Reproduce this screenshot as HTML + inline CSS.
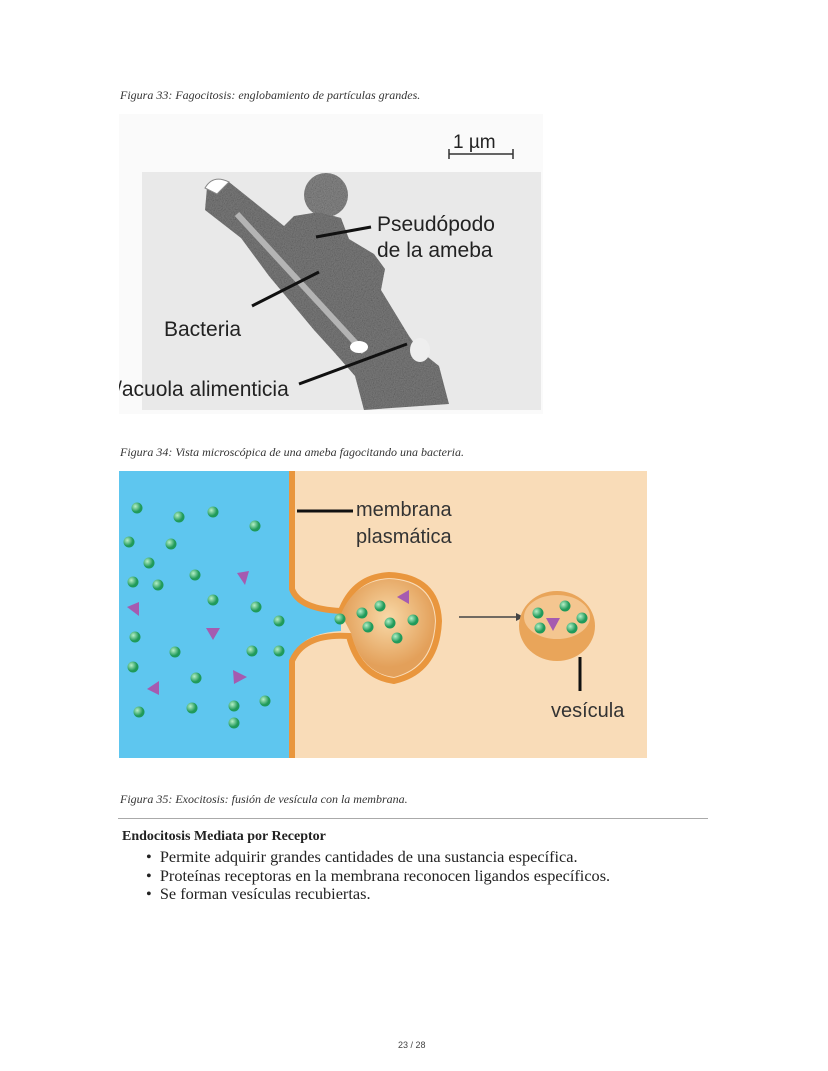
<!DOCTYPE html>
<html><head><meta charset="utf-8"><style>
body{margin:0;background:#fff;width:828px;height:1071px;position:relative;overflow:hidden;font-family:"Liberation Serif","DejaVu Serif",serif;color:#222}
.cap{position:absolute;left:120px;font-style:italic;font-size:12px;color:#333}
.t{position:absolute;white-space:nowrap}
</style></head><body>
<div class="cap" style="top:88px">Figura 33: Fagocitosis: englobamiento de partículas grandes.</div>
<svg style="position:absolute;left:119px;top:114px" width="424" height="300">
<defs><filter id="n"><feTurbulence type="fractalNoise" baseFrequency="0.9" numOctaves="2" result="t"/><feColorMatrix type="saturate" values="0"/><feComposite in2="SourceGraphic" operator="in"/><feBlend in="SourceGraphic" mode="multiply"/></filter></defs>
<rect x="0" y="0" width="424" height="300" fill="#fafafa"/>
<rect x="23" y="58" width="399" height="238" fill="#e9e9e9"/>
<circle cx="207" cy="81" r="22" fill="#8a8a8a" filter="url(#n)"/>
<path d="M88 73 L110 68 L165 112 L175 102 L200 98 L222 104 L230 125 L255 140 L266 155 L262 176 L290 222 L300 236 L320 252 L330 290 L245 296 L236 262 L215 238 L195 216 L175 192 L150 162 L122 124 L86 96 Z" fill="#7e7e7e" filter="url(#n)"/>
<path d="M86 74 Q94 60 110 68 L98 80 Z" fill="#fff" stroke="#888"/>
<path d="M118 100 L245 238" stroke="#b4b4b4" stroke-width="6"/>
<ellipse cx="240" cy="233" rx="9" ry="6" fill="#fff"/>
<ellipse cx="301" cy="236" rx="10" ry="12" fill="#eee"/>
<text x="334" y="34" font-family="Liberation Sans" font-size="19" fill="#222">1 µm</text>
<path d="M330 40 H394 M330 35 V45 M394 35 V45" stroke="#333" stroke-width="1.5"/>
<path d="M197 123 L252 113" stroke="#111" stroke-width="3"/>
<text x="258" y="117" font-family="Liberation Sans" font-size="21" fill="#222">Pseudópodo</text>
<text x="258" y="143" font-family="Liberation Sans" font-size="21" fill="#222">de la ameba</text>
<path d="M133 192 L200 158" stroke="#111" stroke-width="3"/>
<text x="45" y="222" font-family="Liberation Sans" font-size="21" fill="#222">Bacteria</text>
<path d="M180 270 L288 230" stroke="#111" stroke-width="3"/>
<text x="-3" y="282" font-family="Liberation Sans" font-size="21" fill="#222">/acuola alimenticia</text>
</svg>
<div class="cap" style="top:445px">Figura 34: Vista microscópica de una ameba fagocitando una bacteria.</div>
<svg style="position:absolute;left:119px;top:471px" width="528" height="287">
<defs><radialGradient id="g" cx="35%" cy="35%"><stop offset="0" stop-color="#b6f0c8"/><stop offset="1" stop-color="#1f9a5a"/></radialGradient>
<radialGradient id="v" cx="50%" cy="40%"><stop offset="0" stop-color="#f8d9a8"/><stop offset="1" stop-color="#e3a05a"/></radialGradient></defs>
<rect width="528" height="287" fill="#f9dcb8"/>
<path d="M0 0 H172 V118 Q180 138 222 140 L222 160 Q180 162 172 190 V287 H0 Z" fill="#5ec6ef"/>
<path d="M173 0 V118 Q180 138 222 140 Q235 106 270 104 Q318 106 320 150 Q318 200 275 210 Q240 205 230 165 Q185 162 173 190 V287" fill="none" stroke="#e9963d" stroke-width="6"/>
<path d="M222 143 Q236 110 270 108 Q314 110 316 150 Q314 196 275 206 Q242 202 232 162 Z" fill="url(#v)"/>
<path d="M178 40 H234" stroke="#111" stroke-width="3"/>
<text x="237" y="45" font-family="Liberation Sans" font-size="20" fill="#333">membrana</text>
<text x="237" y="72" font-family="Liberation Sans" font-size="20" fill="#333">plasmática</text>
<path d="M340 146 H397" stroke="#444" stroke-width="1.5"/><path d="M397 142 L405 146 L397 150Z" fill="#444"/>
<ellipse cx="438" cy="155" rx="38" ry="35" fill="#e9a55a"/>
<ellipse cx="438" cy="146" rx="33" ry="22" fill="#f4c690"/>
<path d="M461 186 V220" stroke="#111" stroke-width="3"/>
<text x="432" y="246" font-family="Liberation Sans" font-size="20" fill="#333">vesícula</text>
<g fill="url(#g)">
<circle cx="18" cy="37" r="5.5"/><circle cx="60" cy="46" r="5.5"/><circle cx="94" cy="41" r="5.5"/><circle cx="136" cy="55" r="5.5"/><circle cx="10" cy="71" r="5.5"/><circle cx="52" cy="73" r="5.5"/><circle cx="30" cy="92" r="5.5"/><circle cx="76" cy="104" r="5.5"/><circle cx="14" cy="111" r="5.5"/><circle cx="39" cy="114" r="5.5"/><circle cx="94" cy="129" r="5.5"/><circle cx="137" cy="136" r="5.5"/><circle cx="160" cy="150" r="5.5"/><circle cx="16" cy="166" r="5.5"/><circle cx="56" cy="181" r="5.5"/><circle cx="133" cy="180" r="5.5"/><circle cx="160" cy="180" r="5.5"/><circle cx="14" cy="196" r="5.5"/><circle cx="77" cy="207" r="5.5"/><circle cx="20" cy="241" r="5.5"/><circle cx="73" cy="237" r="5.5"/><circle cx="115" cy="235" r="5.5"/><circle cx="146" cy="230" r="5.5"/><circle cx="115" cy="252" r="5.5"/>
<circle cx="221" cy="148" r="5.5"/><circle cx="243" cy="142" r="5.5"/><circle cx="261" cy="135" r="5.5"/><circle cx="249" cy="156" r="5.5"/><circle cx="271" cy="152" r="5.5"/><circle cx="294" cy="149" r="5.5"/><circle cx="278" cy="167" r="5.5"/>
<circle cx="419" cy="142" r="5.5"/><circle cx="446" cy="135" r="5.5"/><circle cx="463" cy="147" r="5.5"/><circle cx="421" cy="157" r="5.5"/><circle cx="453" cy="157" r="5.5"/>
</g>
<g fill="#a55bb0">
<path d="M118 102 L130 100 L126 114Z"/><path d="M8 136 L20 131 L20 145Z"/><path d="M87 157 L101 157 L94 169Z"/><path d="M114 199 L128 206 L115 213Z"/><path d="M28 218 L40 210 L40 224Z"/><path d="M278 126 L290 119 L290 133Z"/><path d="M427 147 L441 147 L434 160Z"/>
</g>
</svg>
<div class="cap" style="top:792px">Figura 35: Exocitosis: fusión de vesícula con la membrana.</div>
<div style="position:absolute;left:118px;top:818px;width:590px;height:1px;background:#aaa"></div>
<div class="t" style="left:122px;top:829px;font-weight:bold;font-size:14px">Endocitosis Mediata por Receptor</div>
<div class="t" style="left:146px;top:848px;font-size:16.3px;line-height:18.5px">•&nbsp;&nbsp;Permite adquirir grandes cantidades de una sustancia específica.<br>•&nbsp;&nbsp;Proteínas receptoras en la membrana reconocen ligandos específicos.<br>•&nbsp;&nbsp;Se forman vesículas recubiertas.</div>
<div class="t" style="left:398px;top:1040px;font-size:9px;font-family:'Liberation Sans',sans-serif;color:#444">23 / 28</div>
</body></html>
